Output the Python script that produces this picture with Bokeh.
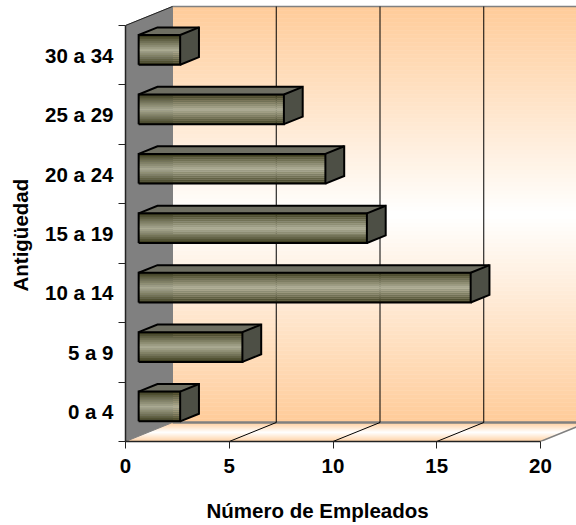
from bokeh.plotting import figure
from bokeh.models import Range1d, FixedTicker, Title, LinearAxis
from bokeh.embed import file_html
from bokeh.resources import INLINE

categories = ["0 a 4", "5 a 9", "10 a 14", "15 a 19", "20 a 24", "25 a 29", "30 a 34"]
empleados = [2, 5, 16, 11, 9, 7, 2]
x_ticks = [0, 5, 10, 15, 20]
x_title = "Número de Empleados"
y_title = "Antigüedad"

PX_X = 20.75
PX_Y = 416 / 7
DX, DY = 47 / PX_X, 19 / PX_Y
FONT = "Liberation Sans"
FS = "20.5px"


def mix(a, b, t):
    return "#%02x%02x%02x" % tuple(round(a[i] + (b[i] - a[i]) * t) for i in range(3))


PEACH, WHITE = (255, 204, 153), (255, 255, 255)

p = figure(width=576, height=525, output_backend="svg", toolbar_location=None,
           x_range=Range1d(0, 451 / PX_X), y_range=Range1d(0, 441 / PX_Y),
           min_border_left=125, min_border_right=0, min_border_top=0, min_border_bottom=84,
           outline_line_color=None, background_fill_color="white", border_fill_color="white",
           margin=(0, 0, 0, 0))
p.grid.visible = False

xmax = x_ticks[-1]
ymax = len(categories)

# back wall gradient
n = 104
t0, t1 = [], []
cols = []
for i in range(n):
    a, b = DY + ymax * i / n, DY + ymax * (i + 1) / n
    t0.append(a); t1.append(b)
    cols.append(mix(PEACH, WHITE, 1 - abs(2 * (i + .5) / n - 1)))
p.quad(left=DX, right=DX + xmax + 2, bottom=t0, top=t1, fill_color=cols, line_color=cols, line_width=0.5)

# floor gradient
m = 19
xs, ys, fc = [], [], []
for i in range(m):
    a, b = i / m, (i + 1) / m
    xs.append([a * DX, xmax + a * DX, xmax + b * DX, b * DX])
    ys.append([a * DY, a * DY, b * DY, b * DY])
    fc.append(mix(PEACH, WHITE, 1 - abs(2 * (i + .5) / m - 1)))
p.patches(xs, ys, fill_color=fc, line_color=fc, line_width=0.5)

# left wall
p.patch([0, DX, DX, 0], [0, DY, ymax + DY, ymax], fill_color="#808080", line_color="#808080")

# wall and floor edges
p.line([DX, DX + xmax + 2], [DY, DY], line_color="#808080", line_width=2.5)
p.line([DX, DX + xmax + 2], [ymax + DY, ymax + DY], line_color="#808080", line_width=1.5)
p.line([xmax, xmax + DX], [0, DY], line_color="#808080", line_width=1.5)
p.line([0, DX], [ymax, ymax + DY], line_color="#222222", line_width=1)

# gridlines
for t in x_ticks[1:-1]:
    p.line([t, t + DX, t + DX], [0, DY, ymax + DY], line_color="#000000", line_width=1)

# bars
D0, D1 = 0.28, 0.68
BAR = 0.5
C_DARK, C_LIGHT = (48, 48, 16), (170, 170, 146)
bands = 15
for i, v in enumerate(empleados):
    lo = i + .5 - BAR / 2 + D0 * DY
    hi = lo + BAR
    x0 = D0 * DX
    x1 = v + D0 * DX
    ox, oy = (D1 - D0) * DX, (D1 - D0) * DY
    # top and side faces
    p.patch([x0, x1, x1 + ox, x0 + ox], [hi, hi, hi + oy, hi + oy], fill_color="#6f6f62", line_color=None)
    p.patch([x1, x1 + ox, x1 + ox, x1], [lo, lo + oy, hi + oy, hi], fill_color="#4d4f45", line_color=None)
    # front face
    b0, b1, bc = [], [], []
    for k in range(bands):
        b0.append(lo + BAR * k / bands)
        b1.append(lo + BAR * (k + 1) / bands)
        bc.append(mix(C_DARK, C_LIGHT, (1 - abs(2 * (k + .5) / bands - 1)) ** 0.8))
    p.quad(left=x0, right=x1, bottom=b0, top=b1, fill_color=bc, line_color=bc, line_width=0.3)
    # outlines
    p.multi_line([[x0, x1, x1, x0, x0], [x0, x0 + ox, x1 + ox, x1 + ox, x1], [x1, x1 + ox]],
                 [[lo, lo, hi, hi, lo], [hi, hi + oy, hi + oy, lo + oy, lo], [hi, hi + oy]],
                 line_color="#000000", line_width=2, line_join="miter")

# axes
ax = p.xaxis[0]
ax.ticker = FixedTicker(ticks=x_ticks)
ax.bounds = (0, xmax)
ax.axis_line_color = "#222222"
ax.axis_line_width = 1.5
ax.major_tick_line_color = "#222222"
ax.major_tick_out = 7
ax.major_tick_in = 0
ax.minor_tick_line_color = None
ax.major_label_text_font = FONT
ax.major_label_text_font_style = "bold"
ax.major_label_text_font_size = FS
ax.major_label_text_color = "black"
ax.major_label_standoff = 10

ay = p.yaxis[0]
ay.ticker = FixedTicker(ticks=[i + .5 for i in range(ymax)], minor_ticks=list(range(ymax + 1)))
ay.major_label_overrides = {i + .5: c for i, c in enumerate(categories)}
ay.bounds = (0, ymax)
ay.axis_line_color = "#222222"
ay.axis_line_width = 1.5
ay.major_tick_line_color = None
ay.major_tick_out = 0
ay.major_tick_in = 0
ay.minor_tick_line_color = "#222222"
ay.minor_tick_out = 7
ay.minor_tick_in = 0
ay.major_label_text_font = FONT
ay.major_label_text_font_style = "bold"
ay.major_label_text_font_size = FS
ay.major_label_text_color = "black"
ay.major_label_standoff = 5


def spacer(size):
    return LinearAxis(ticker=FixedTicker(ticks=[1]), axis_line_color=None, major_tick_line_color=None,
                      minor_tick_line_color=None, major_tick_in=0, major_tick_out=size,
                      minor_tick_in=0, minor_tick_out=0, major_label_text_color=None,
                      major_label_text_font_size="1px", major_label_standoff=0,
                      major_label_overrides={1: " "})


p.add_layout(spacer(19), "below")
p.add_layout(spacer(8), "left")
p.add_layout(Title(text=x_title, align="left", offset=81, standoff=5, text_font=FONT,
                   text_font_style="bold", text_font_size=FS, text_color="black"), "below")
p.add_layout(Title(text=y_title, align="left", offset=150, standoff=5, text_font=FONT,
                   text_font_style="bold", text_font_size=FS, text_color="black"), "left")

open("out.html", "w").write(file_html(p, INLINE))
